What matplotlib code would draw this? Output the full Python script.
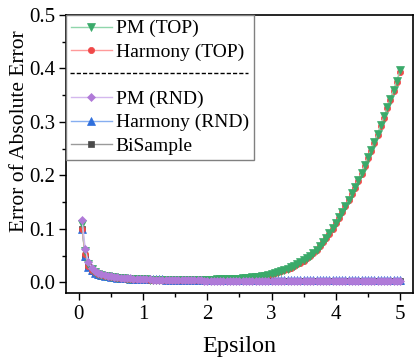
import numpy as np
import matplotlib
matplotlib.use('Agg')
import matplotlib.pyplot as plt
from matplotlib.lines import Line2D
from matplotlib.ticker import MultipleLocator, FormatStrFormatter

plt.rcParams['font.family'] = ['Liberation Serif', 'DejaVu Serif']

# privacy budget grid (0.05 ... 5.00)
epsilon = np.round(np.arange(1, 101) * 0.05, 2)

pm_top = [
    0.108, 0.058, 0.034, 0.025, 0.020, 0.016, 0.014, 0.012, 0.011, 0.010,
    0.0090, 0.0085, 0.0080, 0.0075, 0.0070, 0.0066, 0.0063, 0.0060, 0.0057, 0.0055,
    0.0053, 0.0051, 0.0050, 0.0049, 0.0048, 0.0047, 0.0046, 0.0046, 0.0045, 0.0045,
    0.0044, 0.0044, 0.0044, 0.0044, 0.0044, 0.0045, 0.0045, 0.0046, 0.0047, 0.0048,
    0.0049, 0.0050, 0.0052, 0.0054, 0.0056, 0.0058, 0.0061, 0.0064, 0.0067, 0.0070,
    0.0074, 0.0079, 0.0084, 0.0090, 0.0097, 0.0105, 0.0114, 0.0124, 0.0136, 0.0150,
    0.0167, 0.0185, 0.0204, 0.0225, 0.0250, 0.0277, 0.0307, 0.0338, 0.0372, 0.0410,
    0.0452, 0.0498, 0.0548, 0.0605, 0.0680, 0.0755, 0.0835, 0.0920, 0.1010, 0.1110,
    0.122, 0.132, 0.143, 0.154, 0.166, 0.179, 0.192, 0.205, 0.219, 0.234,
    0.248, 0.263, 0.278, 0.294, 0.310, 0.327, 0.343, 0.360, 0.377, 0.396,
]

harmony_top = [
    0.100, 0.052, 0.031, 0.023, 0.019, 0.015, 0.013, 0.012, 0.011, 0.010,
    0.0090, 0.0084, 0.0079, 0.0074, 0.0069, 0.0065, 0.0062, 0.0059, 0.0056, 0.0054,
    0.0052, 0.0050, 0.0049, 0.0048, 0.0047, 0.0046, 0.0045, 0.0045, 0.0044, 0.0044,
    0.0043, 0.0043, 0.0043, 0.0043, 0.0043, 0.0044, 0.0044, 0.0045, 0.0046, 0.0047,
    0.0048, 0.0049, 0.0051, 0.0053, 0.0055, 0.0057, 0.0060, 0.0063, 0.0066, 0.0069,
    0.0073, 0.0078, 0.0083, 0.0089, 0.0096, 0.0104, 0.0113, 0.0122, 0.0134, 0.0148,
    0.0165, 0.0183, 0.0202, 0.0222, 0.0247, 0.0274, 0.0304, 0.0334, 0.0368, 0.0406,
    0.0447, 0.0493, 0.0543, 0.0599, 0.0673, 0.0748, 0.0827, 0.0911, 0.1000, 0.1100,
    0.121, 0.131, 0.142, 0.153, 0.165, 0.177, 0.190, 0.203, 0.217, 0.232,
    0.246, 0.261, 0.276, 0.292, 0.308, 0.325, 0.341, 0.358, 0.375, 0.394,
]

pm_rnd = [
    0.117, 0.062, 0.037, 0.027, 0.021, 0.017, 0.015, 0.013, 0.012, 0.011,
    0.0100, 0.0093, 0.0087, 0.0081, 0.0076, 0.0072, 0.0068, 0.0064, 0.0061, 0.0058,
    0.0055, 0.0053, 0.0051, 0.0049, 0.0047, 0.0045, 0.0044, 0.0042, 0.0041, 0.0040,
    0.0039, 0.0038, 0.0037, 0.0036, 0.0035, 0.0034, 0.0034, 0.0033, 0.0032, 0.0032,
    0.0031, 0.0031, 0.0030, 0.0030, 0.0030, 0.0029, 0.0029, 0.0029, 0.0028, 0.0028,
    0.0028, 0.0028, 0.0027, 0.0027, 0.0027, 0.0027, 0.0026, 0.0026, 0.0026, 0.0026,
    0.0026, 0.0025, 0.0025, 0.0025, 0.0025, 0.0025, 0.0025, 0.0024, 0.0024, 0.0024,
    0.0024, 0.0024, 0.0024, 0.0024, 0.0023, 0.0023, 0.0023, 0.0023, 0.0023, 0.0023,
    0.0023, 0.0023, 0.0023, 0.0022, 0.0022, 0.0022, 0.0022, 0.0022, 0.0022, 0.0022,
    0.0022, 0.0022, 0.0022, 0.0022, 0.0022, 0.0021, 0.0021, 0.0021, 0.0021, 0.0021,
]

harmony_rnd = [
    0.100, 0.050, 0.029, 0.022, 0.018, 0.015, 0.013, 0.012, 0.011, 0.010,
    0.0094, 0.0088, 0.0082, 0.0078, 0.0074, 0.0070, 0.0067, 0.0064, 0.0062, 0.0060,
    0.0058, 0.0056, 0.0055, 0.0054, 0.0053, 0.0052, 0.0051, 0.0050, 0.0050, 0.0049,
    0.0049, 0.0048, 0.0048, 0.0047, 0.0047, 0.0047, 0.0046, 0.0046, 0.0046, 0.0046,
    0.0045, 0.0045, 0.0045, 0.0045, 0.0045, 0.0045, 0.0044, 0.0044, 0.0044, 0.0044,
    0.0044, 0.0044, 0.0044, 0.0044, 0.0044, 0.0043, 0.0043, 0.0043, 0.0043, 0.0043,
    0.0043, 0.0043, 0.0043, 0.0043, 0.0043, 0.0043, 0.0043, 0.0043, 0.0043, 0.0043,
    0.0043, 0.0043, 0.0042, 0.0042, 0.0042, 0.0042, 0.0042, 0.0042, 0.0042, 0.0042,
    0.0042, 0.0042, 0.0042, 0.0042, 0.0042, 0.0042, 0.0042, 0.0042, 0.0042, 0.0042,
    0.0042, 0.0042, 0.0042, 0.0042, 0.0042, 0.0042, 0.0042, 0.0042, 0.0042, 0.0042,
]

bisample = [
    0.100, 0.047, 0.028, 0.021, 0.017, 0.014, 0.012, 0.011, 0.010, 0.0095,
    0.0088, 0.0082, 0.0077, 0.0072, 0.0068, 0.0064, 0.0061, 0.0058, 0.0055, 0.0053,
    0.0051, 0.0049, 0.0047, 0.0046, 0.0045, 0.0043, 0.0042, 0.0041, 0.0040, 0.0039,
    0.0038, 0.0038, 0.0037, 0.0036, 0.0036, 0.0035, 0.0035, 0.0034, 0.0034, 0.0034,
    0.0033, 0.0033, 0.0033, 0.0032, 0.0032, 0.0032, 0.0032, 0.0031, 0.0031, 0.0031,
    0.0031, 0.0031, 0.0030, 0.0030, 0.0030, 0.0030, 0.0030, 0.0030, 0.0030, 0.0029,
    0.0029, 0.0029, 0.0029, 0.0029, 0.0029, 0.0029, 0.0029, 0.0029, 0.0028, 0.0028,
    0.0028, 0.0028, 0.0028, 0.0028, 0.0028, 0.0028, 0.0028, 0.0028, 0.0028, 0.0028,
    0.0028, 0.0027, 0.0027, 0.0027, 0.0027, 0.0027, 0.0027, 0.0027, 0.0027, 0.0027,
    0.0027, 0.0027, 0.0027, 0.0027, 0.0027, 0.0027, 0.0027, 0.0027, 0.0027, 0.0027,
]

# (label, values, marker, marker colour, line colour) in draw order
series = [
    ('BiSample', bisample, 's', '#4a4a4a', '#9a9a9a'),
    ('Harmony (RND)', harmony_rnd, '^', '#2f6fdc', '#86aef0'),
    ('Harmony (TOP)', harmony_top, 'o', '#f04848', '#ff9a9a'),
    ('PM (TOP)', pm_top, 'v', '#3aaa6a', '#8fd6ab'),
    ('PM (RND)', pm_rnd, 'D', '#b07ad8', '#d4b8ee'),
]

fig = plt.figure(figsize=(4.15, 3.63), dpi=100)
ax = fig.add_axes([0.159, 0.193, 0.836, 0.766])

handles = {}
for label, vals, mk, mcol, lcol in series:
    ms = {'D': 4.5, 'o': 4.5, 's': 4.5}.get(mk, 5.5)
    h, = ax.plot(epsilon, vals, color=lcol, lw=1.0, marker=mk, markersize=ms,
                 markerfacecolor=mcol, markeredgecolor=mcol, markeredgewidth=0.5,
                 label=label)
    handles[label] = h

ax.set_xlim(-0.2, 5.2)
ax.set_ylim(-0.02, 0.5)
ax.xaxis.set_major_locator(MultipleLocator(1))
ax.xaxis.set_minor_locator(MultipleLocator(0.5))
ax.yaxis.set_major_locator(MultipleLocator(0.1))
ax.yaxis.set_minor_locator(MultipleLocator(0.05))
ax.yaxis.set_major_formatter(FormatStrFormatter('%.1f'))
ax.tick_params(which='both', direction='out', width=1.0, labelsize=15,
               top=False, right=False)
ax.tick_params(which='major', length=5)
ax.tick_params(which='minor', length=3)
ax.tick_params(axis='y', which='major', pad=2.5)
for sp in ax.spines.values():
    sp.set_linewidth(1.2)

ax.set_xlabel('Epsilon', fontsize=17.5, labelpad=9)
ax.set_ylabel('Error of Absolute Error', fontsize=15.5)
ax.yaxis.set_label_coords(-0.108, 0.583)

blank = Line2D([], [], linestyle='', marker='')
order = ['PM (TOP)', 'Harmony (TOP)', None, 'PM (RND)', 'Harmony (RND)', 'BiSample']
leg_handles = [handles[k] if k else blank for k in order]
leg_labels = [k if k else ' ' for k in order]
leg = ax.legend(leg_handles, leg_labels, loc='upper left', bbox_to_anchor=(0, 1),
                borderaxespad=0, fontsize=14, fancybox=False, framealpha=1,
                edgecolor='#808080', handlelength=2.1, handletextpad=0.2,
                labelspacing=0.3, borderpad=0.25)
leg.get_frame().set_linewidth(1.0)

# dashed separator between TOP and RND groups
ax.add_line(Line2D([0.012, 0.525], [0.791, 0.791], transform=ax.transAxes,
                   color='black', lw=1.0, linestyle=(0, (3, 1.5)), zorder=10))

fig.savefig('out.png', dpi=100)
